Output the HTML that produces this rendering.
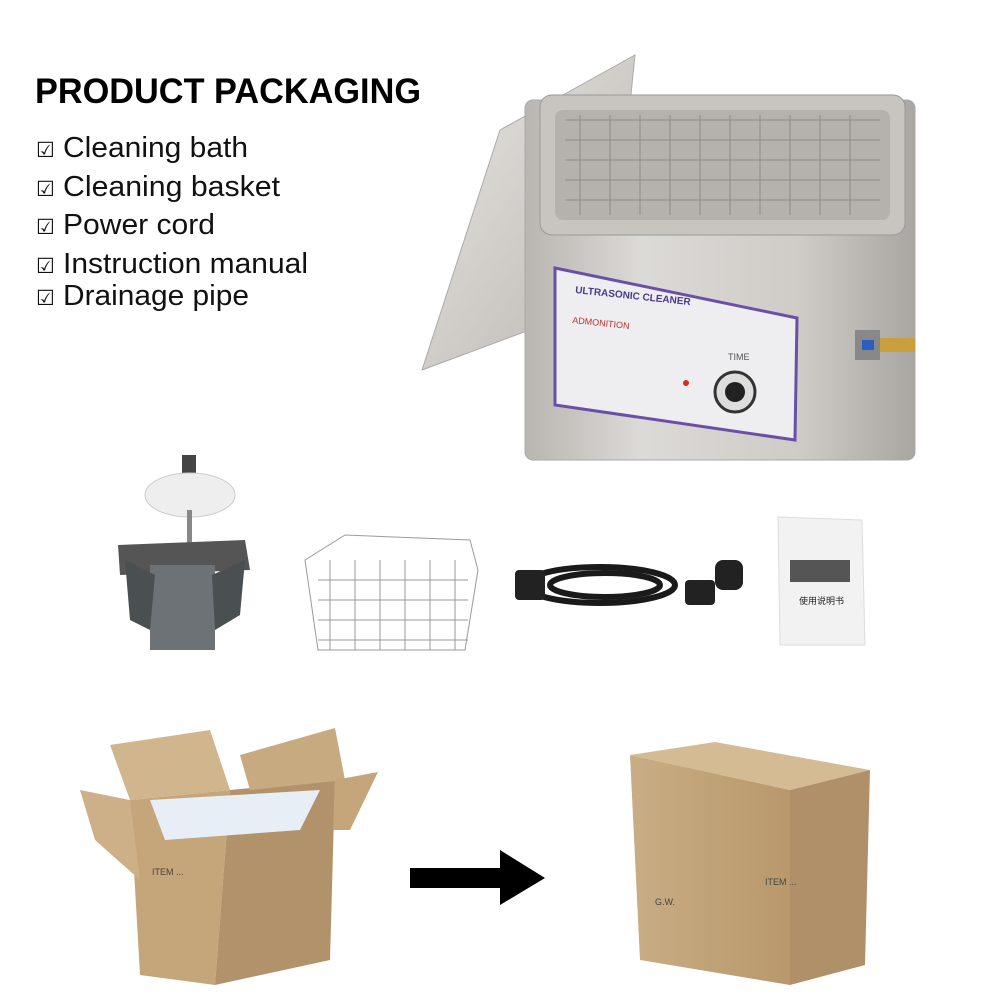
<!DOCTYPE html>
<html><head><meta charset="utf-8"><style>
html,body{margin:0;padding:0;background:#fff;}
svg{display:block;}
text{font-family:"Liberation Sans","Noto Sans CJK SC",sans-serif;}
</style></head><body>
<svg width="1000" height="1000" viewBox="0 0 1000 1000" xmlns="http://www.w3.org/2000/svg">
<defs>
<linearGradient id="steel" x1="0" y1="0" x2="1" y2="0">
<stop offset="0" stop-color="#b9b6b2"/><stop offset="0.3" stop-color="#dcdad6"/><stop offset="0.7" stop-color="#cfccc8"/><stop offset="1" stop-color="#a9a6a2"/></linearGradient>
<linearGradient id="lid" x1="0" y1="0" x2="1" y2="1">
<stop offset="0" stop-color="#e8e6e2"/><stop offset="1" stop-color="#b8b5b0"/></linearGradient>
<linearGradient id="box" x1="0" y1="0" x2="1" y2="0">
<stop offset="0" stop-color="#c9ad84"/><stop offset="1" stop-color="#b8986c"/></linearGradient>
</defs>
<rect width="1000" height="1000" fill="#fff"/>
<text x="35" y="103" font-size="35" font-weight="bold" textLength="386" lengthAdjust="spacingAndGlyphs">PRODUCT PACKAGING</text>
<g font-size="29" fill="#111">
<text x="36" y="157" font-size="21">☑</text><text x="63" y="157" textLength="185" lengthAdjust="spacingAndGlyphs">Cleaning bath</text>
<text x="36" y="196" font-size="21">☑</text><text x="63" y="196" textLength="217" lengthAdjust="spacingAndGlyphs">Cleaning basket</text>
<text x="36" y="234" font-size="21">☑</text><text x="63" y="234" textLength="152" lengthAdjust="spacingAndGlyphs">Power cord</text>
<text x="36" y="273" font-size="21">☑</text><text x="63" y="273" textLength="245" lengthAdjust="spacingAndGlyphs">Instruction manual</text>
<text x="36" y="305" font-size="21">☑</text><text x="63" y="305" textLength="186" lengthAdjust="spacingAndGlyphs">Drainage pipe</text>
</g>
<!-- cleaner -->
<polygon points="500,130 635,55 610,300 422,370" fill="url(#lid)" stroke="#aaa"/>
<rect x="525" y="100" width="390" height="360" rx="8" fill="url(#steel)" stroke="#aaa"/>
<rect x="540" y="95" width="365" height="140" rx="12" fill="#c8c5c0" stroke="#999"/>
<rect x="555" y="110" width="335" height="110" rx="8" fill="#b5b2ad"/>
<g stroke="#8f8c88" stroke-width="1">
<path d="M565 120h315M565 140h315M565 160h315M565 180h315M565 200h315"/>
<path d="M580 115v100M610 115v100M640 115v100M670 115v100M700 115v100M730 115v100M760 115v100M790 115v100M820 115v100M850 115v100"/>
</g>
<polygon points="555,268 797,318 795,440 555,405" fill="#eeedf0" stroke="#6a4fa8" stroke-width="3"/>
<text x="575" y="293" font-size="10" font-weight="bold" fill="#4a3a8a" transform="rotate(6 575 293)">ULTRASONIC CLEANER</text>
<text x="572" y="323" font-size="9" fill="#c03030" transform="rotate(6 572 323)">ADMONITION</text>
<text x="728" y="360" font-size="9" fill="#555">TIME</text>
<circle cx="735" cy="392" r="20" fill="#ddd" stroke="#333" stroke-width="3"/>
<circle cx="735" cy="392" r="10" fill="#222"/>
<circle cx="686" cy="383" r="3" fill="#d03020"/>
<path d="M855 330h25v30h-25z" fill="#888"/><rect x="880" y="338" width="35" height="14" fill="#c9a040"/>
<rect x="862" y="340" width="12" height="10" fill="#2a5fc0"/>
<!-- stand -->
<rect x="182" y="455" width="14" height="20" fill="#444"/>
<ellipse cx="190" cy="495" rx="45" ry="22" fill="#eee" stroke="#ccc"/>
<rect x="187" y="510" width="5" height="40" fill="#888"/>
<polygon points="118,545 245,540 250,570 120,575" fill="#555"/>
<rect x="150" y="565" width="65" height="85" fill="#6c7276"/>
<polygon points="125,560 155,575 150,630 130,620" fill="#4a4f52"/>
<polygon points="212,575 245,560 240,615 215,630" fill="#4a4f52"/>
<!-- basket -->
<g stroke="#9a9a9a" fill="none">
<polygon points="305,560 345,535 470,540 478,570 465,650 318,650"/>
<path d="M318 580h150M318 600h150M318 620h150M318 640h150"/>
<path d="M330 560v90M355 560v90M380 560v90M405 560v90M430 560v90M455 560v90"/>
</g>
<!-- cord -->
<g stroke="#1a1a1a" stroke-width="6" fill="none">
<ellipse cx="600" cy="585" rx="75" ry="18"/><ellipse cx="605" cy="585" rx="55" ry="12"/>
</g>
<rect x="515" y="570" width="30" height="30" rx="4" fill="#222"/>
<rect x="685" y="580" width="30" height="25" rx="4" fill="#222"/>
<rect x="715" y="560" width="28" height="30" rx="8" fill="#222"/>
<!-- manual -->
<polygon points="778,517 862,520 865,645 780,645" fill="#f2f2f2" stroke="#ddd"/>
<rect x="790" y="560" width="60" height="22" fill="#555"/>
<text x="799" y="604" font-size="9" fill="#222">使用说明书</text>
<!-- open box -->
<polygon points="130,800 230,790 215,985 140,975" fill="#c5a57a"/>
<polygon points="230,790 335,780 330,960 215,985" fill="#b2926a"/>
<polygon points="110,745 210,730 230,790 130,800" fill="#d0b58d"/>
<polygon points="240,755 335,728 345,780 250,790" fill="#c7aa80"/>
<polygon points="80,790 130,800 140,880 95,840" fill="#cdb088"/>
<polygon points="335,780 378,772 350,830 333,830" fill="#c5a57a"/>
<polygon points="150,800 320,790 300,830 165,840" fill="#e8eef5"/>
<text x="152" y="875" font-size="9" fill="#444">ITEM ...</text>
<!-- arrow -->
<polygon points="410,868 500,868 500,850 545,878 500,905 500,888 410,888" fill="#000"/>
<!-- closed box -->
<polygon points="630,755 715,742 870,770 790,790" fill="#d5bb94"/>
<polygon points="630,755 790,790 790,985 640,960" fill="url(#box)"/>
<polygon points="790,790 870,770 865,965 790,985" fill="#b09068"/>
<text x="655" y="905" font-size="9" fill="#444">G.W.</text>
<text x="765" y="885" font-size="9" fill="#444">ITEM ...</text>
</svg>
</body></html>
